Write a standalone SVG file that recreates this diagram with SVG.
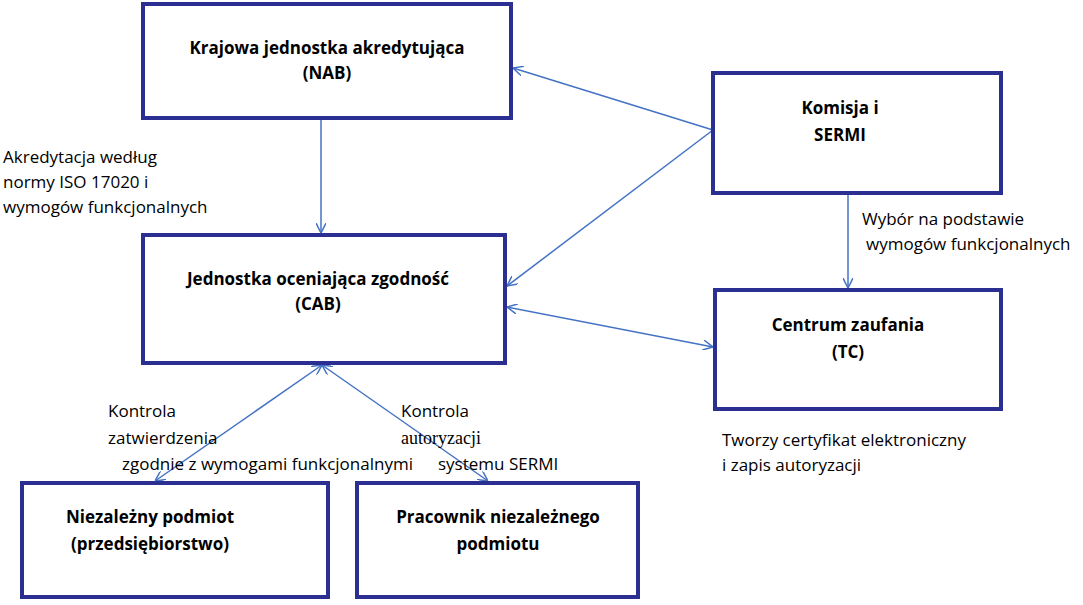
<svg xmlns="http://www.w3.org/2000/svg" width="1083" height="605" viewBox="0 0 1083 605">
<style>
.box{fill:#fff;stroke:#2B2F91;stroke-width:4}
.t{font-family:"Open Sans","Liberation Sans",sans-serif;font-size:17px;fill:#000}
.b{font-weight:bold;text-anchor:middle}
.s{font-family:"Liberation Serif",serif;font-size:18px}
.c{stroke:#4472C4;stroke-width:1.5;fill:none}
</style>
<defs>
<marker id="a" viewBox="0 0 10 10" refX="10" refY="5" markerWidth="10" markerHeight="10" orient="auto-start-reverse" markerUnits="userSpaceOnUse"><path d="M0,0 L10,5 L0,10" fill="none" stroke="#4472C4" stroke-width="1.5"/></marker>
</defs>
<rect width="1083" height="605" fill="#fff"/>
<g id="connectors">
<line class="c" x1="321" y1="120" x2="321" y2="233" marker-end="url(#a)"/>
<line class="c" x1="713" y1="130" x2="513" y2="68" marker-end="url(#a)"/>
<line class="c" x1="713" y1="130" x2="507" y2="286" marker-end="url(#a)"/>
<line class="c" x1="848" y1="195" x2="848" y2="288" marker-end="url(#a)"/>
<line class="c" x1="507" y1="307" x2="713" y2="347" marker-start="url(#a)" marker-end="url(#a)"/>
<line class="c" x1="322" y1="365" x2="155" y2="481" marker-start="url(#a)" marker-end="url(#a)"/>
<line class="c" x1="322" y1="365" x2="488" y2="481" marker-start="url(#a)" marker-end="url(#a)"/>
</g>
<g id="nab"><rect class="box" x="143" y="4" width="368" height="114"/>
<text class="t b" x="327" y="54">Krajowa jednostka akredytująca</text><text class="t b" x="327" y="79">(NAB)</text></g>
<g id="komisja"><rect class="box" x="713" y="73" width="288" height="120"/>
<text class="t b" x="840" y="114">Komisja i</text><text class="t b" x="840" y="141">SERMI</text></g>
<g id="cab"><rect class="box" x="143" y="235" width="362" height="128"/>
<text class="t b" x="318" y="285">Jednostka oceniająca zgodność</text><text class="t b" x="318" y="310">(CAB)</text></g>
<g id="tc"><rect class="box" x="715" y="290" width="286" height="119"/>
<text class="t b" x="848" y="331">Centrum zaufania</text><text class="t b" x="848" y="358">(TC)</text></g>
<g id="niezalezny"><rect class="box" x="22" y="483" width="306" height="114"/>
<text class="t b" x="150" y="523">Niezależny podmiot</text><text class="t b" x="150" y="550">(przedsiębiorstwo)</text></g>
<g id="pracownik"><rect class="box" x="357" y="483" width="281" height="114"/>
<text class="t b" x="498" y="523">Pracownik niezależnego</text><text class="t b" x="498" y="550">podmiotu</text></g>
<g id="labels" class="t">
<text x="3" y="163">Akredytacja według</text>
<text x="3" y="188">normy ISO 17020 i</text>
<text x="3" y="213">wymogów funkcjonalnych</text>
<text x="862" y="225">Wybór na podstawie</text>
<text x="866" y="250">wymogów funkcjonalnych</text>
<text x="108" y="417">Kontrola</text>
<text x="108" y="444">zatwierdzenia</text>
<text x="122" y="470">zgodnie z wymogami funkcjonalnymi</text>
<text x="401" y="417">Kontrola</text>
<text x="401" y="444" class="s">autoryzacji</text>
<text x="438" y="470">systemu SERMI</text>
<text x="722" y="446">Tworzy certyfikat elektroniczny</text>
<text x="722" y="471">i zapis autoryzacji</text>
</g>
</svg>
